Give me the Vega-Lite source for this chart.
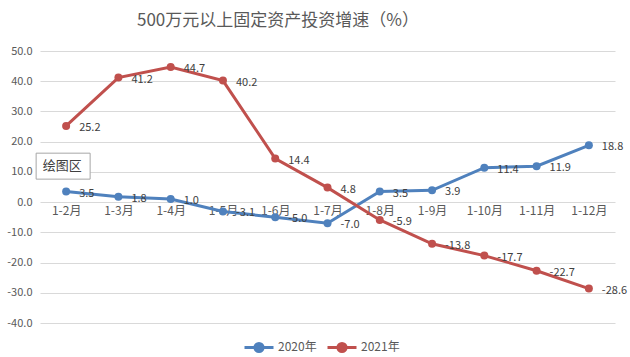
{
  "$schema": "https://vega.github.io/schema/vega-lite/v6.json",
  "autosize": {"type": "none"},
  "padding": {"left": 40, "top": 51, "right": 15, "bottom": 34},
  "width": 575,
  "height": 272,
  "background": "white",
  "config": {
    "font": "Noto Sans CJK SC",
    "view": {"stroke": null},
    "locale": {"number": {"decimal": ".", "thousands": ",", "grouping": [3], "currency": ["", ""], "minus": "-"}}
  },
  "title": {
    "text": "500万元以上固定资产投资增速（%）",
    "fontSize": 17,
    "fontWeight": "normal",
    "color": "#595959",
    "anchor": "start",
    "frame": "group",
    "dx": 97,
    "baseline": "alphabetic",
    "offset": 2
  },
  "datasets": {
    "series": [
      {"period": "1-2月", "year": "2020年", "value": 3.5},
      {"period": "1-3月", "year": "2020年", "value": 1.8},
      {"period": "1-4月", "year": "2020年", "value": 1.0},
      {"period": "1-5月", "year": "2020年", "value": -3.1},
      {"period": "1-6月", "year": "2020年", "value": -5.0},
      {"period": "1-7月", "year": "2020年", "value": -7.0},
      {"period": "1-8月", "year": "2020年", "value": 3.5},
      {"period": "1-9月", "year": "2020年", "value": 3.9},
      {"period": "1-10月", "year": "2020年", "value": 11.4},
      {"period": "1-11月", "year": "2020年", "value": 11.9},
      {"period": "1-12月", "year": "2020年", "value": 18.8},
      {"period": "1-2月", "year": "2021年", "value": 25.2},
      {"period": "1-3月", "year": "2021年", "value": 41.2},
      {"period": "1-4月", "year": "2021年", "value": 44.7},
      {"period": "1-5月", "year": "2021年", "value": 40.2},
      {"period": "1-6月", "year": "2021年", "value": 14.4},
      {"period": "1-7月", "year": "2021年", "value": 4.8},
      {"period": "1-8月", "year": "2021年", "value": -5.9},
      {"period": "1-9月", "year": "2021年", "value": -13.8},
      {"period": "1-10月", "year": "2021年", "value": -17.7},
      {"period": "1-11月", "year": "2021年", "value": -22.7},
      {"period": "1-12月", "year": "2021年", "value": -28.6}
    ],
    "note": [
      {"period": "1-2月", "value": 11.9, "label": "绘图区"}
    ]
  },
  "encoding": {
    "x": {
      "field": "period", "type": "ordinal",
      "sort": ["1-2月","1-3月","1-4月","1-5月","1-6月","1-7月","1-8月","1-9月","1-10月","1-11月","1-12月"],
      "scale": {"type": "point", "padding": 0.5},
      "axis": {
        "title": null, "domain": false, "ticks": false, "grid": false,
        "offset": -121, "labelPadding": 3, "labelAngle": 0, "labelOverlap": false,
        "labelFontSize": 12, "labelColor": "#595959", "labelBaseline": "top"
      }
    },
    "y": {
      "field": "value", "type": "quantitative",
      "scale": {"domain": [-40, 50], "nice": false, "zero": false},
      "axis": {
        "title": null, "domain": false, "ticks": false,
        "values": [-40, -30, -20, -10, 0, 10, 20, 30, 40, 50],
        "labelOverlap": false, "labelBound": false, "labelFlush": false,
        "format": ".1f", "labelFontSize": 11, "labelColor": "#595959",
        "labelPadding": 8, "gridColor": "#d9d9d9", "gridWidth": 1
      }
    }
  },
  "layer": [
    {
      "data": {"name": "series"},
      "mark": {"type": "line", "strokeWidth": 3},
      "encoding": {
        "color": {
          "field": "year", "type": "nominal",
          "scale": {"domain": ["2020年", "2021年"], "range": ["#4F81BD", "#C0504D"]},
          "legend": {
            "title": null, "orient": "none", "direction": "horizontal",
            "legendX": 203, "legendY": 280, "padding": 0,
            "symbolType": "M-1,0H1M0.28,0A0.28,0.28,0,1,1,-0.28,0A0.28,0.28,0,1,1,0.28,0Z",
            "symbolSize": 841, "symbolStrokeWidth": 3,
            "labelFontSize": 12, "labelColor": "#595959",
            "labelOffset": 3, "columnPadding": 4
          }
        }
      }
    },
    {
      "data": {"name": "series"},
      "mark": {"type": "point", "filled": true, "size": 64, "opacity": 1},
      "encoding": {
        "color": {"field": "year", "type": "nominal"}
      }
    },
    {
      "data": {"name": "series"},
      "mark": {"type": "text", "align": "left", "baseline": "middle", "dx": 13, "dy": 2, "fontSize": 11, "color": "#404040"},
      "encoding": {
        "text": {"field": "value", "type": "quantitative", "format": ".1f"}
      }
    },
    {
      "data": {"name": "note"},
      "mark": {"type": "point", "shape": "M-1,-0.433H0.8V0.433H-1Z", "size": 3600, "filled": false, "fill": "white", "fillOpacity": 1, "stroke": "#a6a6a6", "strokeWidth": 1, "opacity": 1}
    },
    {
      "data": {"name": "note"},
      "mark": {"type": "text", "align": "center", "baseline": "middle", "dx": -4, "fontSize": 13, "color": "#404040"},
      "encoding": {
        "text": {"field": "label"}
      }
    }
  ]
}
